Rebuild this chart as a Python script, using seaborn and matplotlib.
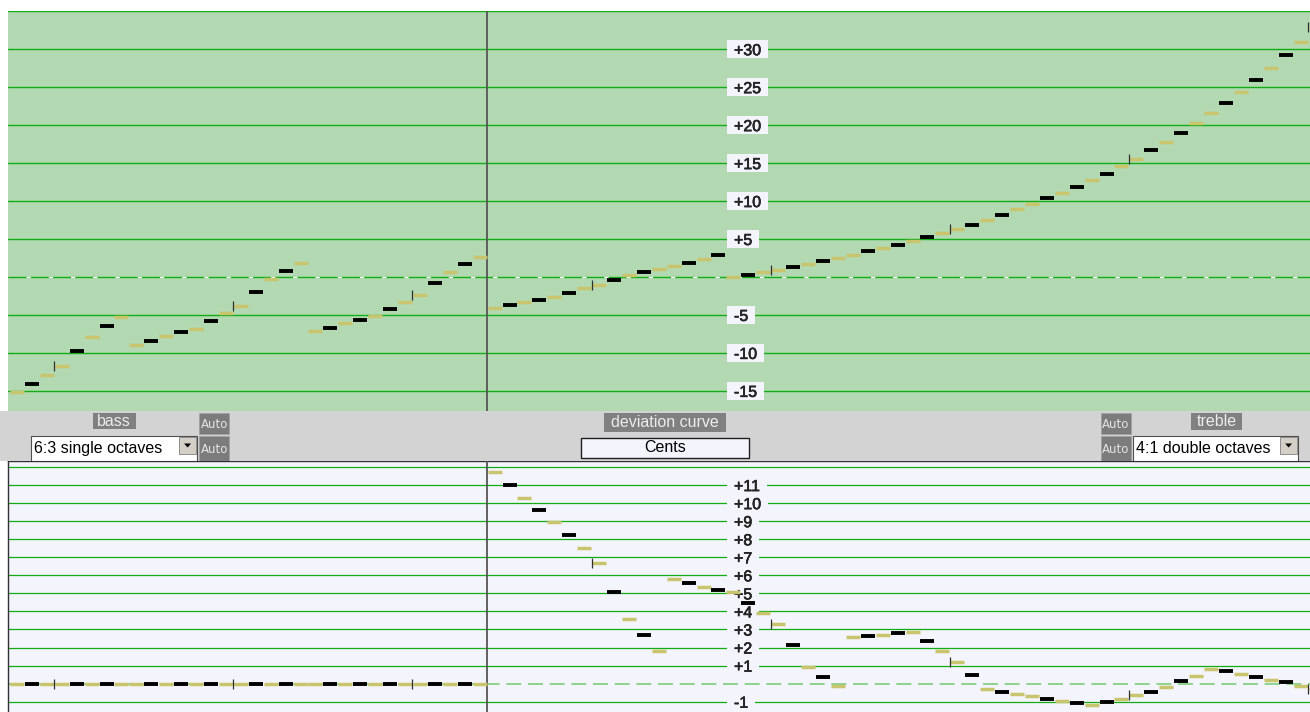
import numpy as np
import pandas as pd
import seaborn as sns
import matplotlib
matplotlib.use("Agg")
from matplotlib import pyplot as plt
from matplotlib import patheffects
from matplotlib.patches import Rectangle, Polygon

# odchylenie w centach dla klawiszy A0..C8
top_cents = [
    -15.2, -14.1, -12.9, -11.7, -9.7, -7.9, -6.5, -5.3,
    -9.0, -8.4, -7.8, -7.3, -6.8, -5.8, -4.8, -3.8, -2.0, -0.3, 0.8, 1.8,
    -7.1, -6.7, -6.1, -5.7, -5.1, -4.2, -3.3, -2.4, -0.8, 0.7, 1.7, 2.6,
    -4.1, -3.7, -3.3, -3.0, -2.6, -2.1, -1.5, -1.0, -0.4, 0.2, 0.6, 1.1,
    1.4, 1.9, 2.4, 2.9,
    0.0, 0.2, 0.6, 0.9, 1.3, 1.7, 2.1, 2.5, 2.9, 3.4, 3.8, 4.2, 4.7, 5.2,
    5.8, 6.3, 6.9, 7.5, 8.2, 8.9, 9.6, 10.4, 11.1, 11.9, 12.8, 13.6, 14.6,
    15.6, 16.7, 17.8, 19.0, 20.3, 21.6, 22.9, 24.4, 25.9, 27.5, 29.2, 31.0,
    32.9,
]
bottom_cents = [0.0] * 32 + [
    11.70, 10.98, 10.27, 9.61, 8.98, 8.26, 7.49, 6.67, 5.09, 3.56, 2.68, 1.80,
    5.77, 5.55, 5.34, 5.20, 5.05, 4.48, 3.91, 3.31, 2.13, 0.94, 0.37, -0.15,
    2.59, 2.64, 2.70, 2.79, 2.88, 2.37, 1.80, 1.21, 0.48, -0.29, -0.44, -0.55,
    -0.70, -0.84, -0.94, -1.06, -1.17, -1.01, -0.84, -0.64, -0.44, -0.20,
    0.13, 0.42, 0.83, 0.68, 0.53, 0.37, 0.22, 0.07, -0.13, -0.29,
]
top_labels = [30, 25, 20, 15, 10, 5, -5, -10, -15]
top_grid = list(range(-15, 40, 5))
bottom_labels = [11, 10, 9, 8, 7, 6, 5, 4, 3, 2, 1, -1]
bottom_grid = list(range(-1, 13))
bass_choice = "6:3 single octaves"
treble_choice = "4:1 double octaves"
curve_title = "deviation curve"
unit_label = "Cents"
split_key = 32

keys = np.arange(len(top_cents))
df = pd.DataFrame({
    "key": keys,
    "x": keys + 0.5,
    "top": top_cents,
    "bottom": bottom_cents,
    "black": np.isin((keys + 9) % 12, [1, 3, 6, 8, 10]),
    "c": (keys + 9) % 12 == 0,
})

sns.set_style("white")
plt.rcParams["font.family"] = ["Liberation Sans", "DejaVu Sans"]

W, H = 1310, 712
KHAKI = "#c9c46e"
GRID = "#14ac14"
fig = plt.figure(figsize=(W / 100, H / 100), dpi=100)
bold = [patheffects.withStroke(linewidth=0.4, foreground="black")]


def px_axes(x0, y0, x1, y1):
    return fig.add_axes([x0 / W, 1 - y1 / H, (x1 - x0) / W, (y1 - y0) / H])


def draw_keys(ax, col):
    sns.scatterplot(data=df[~df["black"]], x="x", y=col, marker="_", s=92,
                    linewidth=2.5, color=KHAKI, ax=ax, zorder=4, legend=False)
    sns.scatterplot(data=df[df["black"]], x="x", y=col, marker="_", s=92,
                    linewidth=2.8, color="black", ax=ax, zorder=5, legend=False)
    sns.scatterplot(data=df[df["c"]], x="key", y=col, marker="|", s=62,
                    linewidth=0.9, color="#303030", ax=ax, zorder=6, legend=False)
    ax.axvline(split_key, color="#555555", lw=1.3, zorder=3)
    ax.set_xlabel("")
    ax.set_ylabel("")
    ax.set_xticks([])
    ax.set_yticks([])
    ax.set_xlim(-0.1, 87.13)


def label_boxes(ax, texts, values, fc, h):
    fig.canvas.draw()
    inv = ax.transAxes.inverted()
    for t, v in zip(texts, values):
        bb = t.get_window_extent()
        yc = ax.transData.transform((0, v))[1]
        a0 = inv.transform((bb.x0 - 7.3, yc - h / 2))
        a1 = inv.transform((bb.x1 + 7, yc + h / 2))
        ax.add_patch(Rectangle(a0, a1[0] - a0[0], a1[1] - a0[1], transform=ax.transAxes,
                               fc=fc, ec="none", zorder=2.5))


# gorny panel
top_ax = px_axes(8, 11, 1310, 411)
top_ax.set_facecolor("#b3d9b3")
for v in top_grid:
    top_ax.axhline(v, color=GRID, lw=1.0, zorder=2)
top_ax.axhline(0, color="white", lw=1.0, linestyle=(3, (3.1, 12.9)), zorder=2.1)
draw_keys(top_ax, "top")
top_ax.set_ylim(-17.65, 35.03)
for s in top_ax.spines.values():
    s.set_visible(False)

# dolny panel
bot_ax = px_axes(8, 460.7, 1310, 712)
bot_ax.set_facecolor("#f4f4fc")
for v in bottom_grid:
    if v != 0:
        bot_ax.axhline(v, color=GRID, lw=0.9, zorder=2)
bot_ax.axhline(0, color="#86d086", lw=1.3, linestyle=(0, (8.3, 3.7)), zorder=2)
draw_keys(bot_ax, "bottom")
bot_ax.set_ylim(-1.57, 12.35)
for name, s in bot_ax.spines.items():
    s.set_visible(name in ("left", "top"))
    s.set_color("#303030")
    s.set_linewidth(1.0)

lx = (734 - 8) / 1302
top_texts = [top_ax.text(lx, v, f"{v:+d}", transform=top_ax.get_yaxis_transform(),
                         ha="left", va="center_baseline", fontsize=11.5, zorder=3,
                         path_effects=bold)
             for v in top_labels]
bot_texts = [bot_ax.text(lx, v, f"{v:+d}", transform=bot_ax.get_yaxis_transform(),
                         ha="left", va="center_baseline", fontsize=11.5, zorder=3,
                         path_effects=bold)
             for v in bottom_labels]
label_boxes(top_ax, top_texts, top_labels, "#f4f4fc", 18)
label_boxes(bot_ax, bot_texts, bottom_labels, "#f4f4fc", 13)

# pasek z kontrolkami
band = px_axes(0, 411, 1310, 460.7)
band.set_facecolor("#d3d3d3")
band.set_xlim(0, W)
band.set_ylim(460.7, 411)
band.set_xticks([])
band.set_yticks([])
for s in band.spines.values():
    s.set_visible(False)


def tag(x, y, w, h, text):
    band.add_patch(Rectangle((x, y), w, h, fc="#808080", ec="none"))
    band.text(x + w / 2, y + h / 2, text, ha="center", va="center", color="#ececec", fontsize=11.5)


def auto(x, y, h):
    band.add_patch(Rectangle((x, y), 30, h, fc="#7c7c7c", ec="#a0a0a0", lw=0.6))
    band.text(x + 15, y + h / 2 + 1, "Auto", ha="center", va="center", color="#e4e4e4",
              fontsize=8.5, family="DejaVu Sans")


def dropdown(x, w, text):
    band.add_patch(Rectangle((x, 436), w, 25, fc="white", ec="#505050", lw=0.8))
    band.text(x + 3, 449, text, ha="left", va="center", color="black", fontsize=11.5)
    bx = x + w - 18.5
    band.add_patch(Rectangle((bx, 437.3), 17.5, 16.5, fc="#d4d0c8", ec="#808080", lw=0.6))
    cx = bx + 8.8
    band.add_patch(Polygon([(cx - 3.5, 443.5), (cx + 3.5, 443.5), (cx, 447.5)], fc="black", ec="none"))


tag(92.7, 413.3, 43, 16, "bass")
tag(604.3, 412.7, 121.4, 19, curve_title)
tag(1191, 412.7, 50.7, 17.3, "treble")
auto(199.3, 412.7, 21.6)
auto(199.3, 436, 24.7)
auto(1101, 412.7, 21.6)
auto(1101, 436, 24.7)
dropdown(30.7, 166.6, bass_choice)
dropdown(1132.7, 165.6, treble_choice)
band.add_patch(Rectangle((581, 437.7), 167.7, 20, fc="#f4f4fc", ec="#202020", lw=1.0))
band.text(665, 448, unit_label, ha="center", va="center", color="black", fontsize=11.5)

fig.savefig("out.png", dpi=100)
